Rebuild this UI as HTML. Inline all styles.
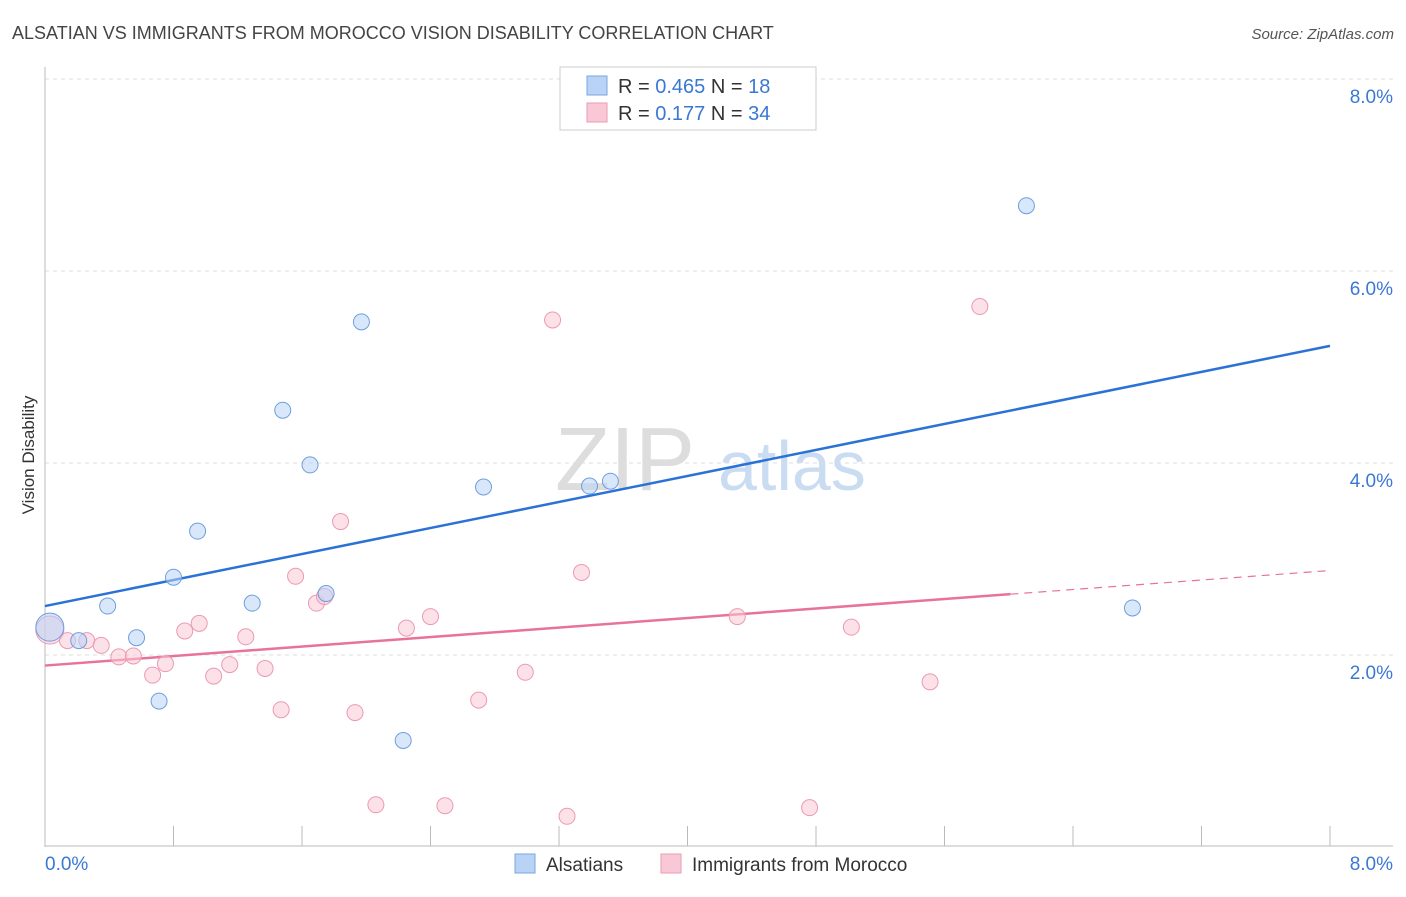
<!DOCTYPE html>
<html><head><meta charset="utf-8"><style>
body{margin:0;background:#fff;font-family:"Liberation Sans",sans-serif}
svg text{font-family:"Liberation Sans",sans-serif}
</style></head><body>
<svg id="chart" width="1406" height="892" viewBox="0 0 1406 892">
<text x="12" y="39" font-size="18" fill="#444">ALSATIAN VS IMMIGRANTS FROM MOROCCO VISION DISABILITY CORRELATION CHART</text>
<text x="1394" y="39" font-size="15" fill="#555" font-style="italic" text-anchor="end">Source: ZipAtlas.com</text>
<text x="0" y="0" transform="translate(34,455) rotate(-90)" font-size="17" fill="#333" text-anchor="middle">Vision Disability</text>
<g><text x="555" y="490" font-size="90" fill="#ddd" font-family="Liberation Serif">ZIP</text><text x="718" y="490" font-size="70" fill="#c9dcf2">atlas</text></g>
<g id="grid"></g><g id="axes"></g><g id="lines"></g><g id="pts"></g>
<g>
<rect x="560" y="67" width="256" height="63" fill="#fff" stroke="#ccc"/>
<rect x="587" y="76" width="20" height="19" fill="#b8d3f5" stroke="#7aa7e0"/>
<rect x="587" y="103" width="20" height="19" fill="#f9c8d7" stroke="#eb9ab3"/>
<text x="618" y="93" font-size="20" fill="#333">R = <tspan fill="#3a78d4">0.465</tspan>    N =  <tspan fill="#3a78d4">18</tspan></text>
<text x="618" y="120" font-size="20" fill="#333">R =  <tspan fill="#3a78d4">0.177</tspan>    N = <tspan fill="#3a78d4">34</tspan></text>
</g>
<g>
<rect x="515" y="854" width="20" height="19" fill="#b8d3f5" stroke="#7aa7e0"/>
<text x="546" y="871" font-size="19" fill="#333">Alsatians</text>
<rect x="661" y="854" width="20" height="19" fill="#f9c8d7" stroke="#eb9ab3"/>
<text x="692" y="871" font-size="19" fill="#333">Immigrants from Morocco</text>
</g>
</svg>
<script>
const yTicks=[2,4,6,8];
const yTickLabels=["2.0%","4.0%","6.0%","8.0%"];
const blueX=[0.03,0.39,0.21,0.57,0.71,0.80,0.95,1.29,1.48,1.65,1.75,1.97,2.23,2.73,3.39,3.52,6.11,6.77];
const blueY=[2.29,2.51,2.15,2.18,1.52,2.81,3.29,2.54,4.55,3.98,2.64,5.47,1.11,3.75,3.76,3.81,6.68,2.49];
const pinkX=[0.03,0.14,0.26,0.35,0.46,0.55,0.67,0.75,0.87,0.96,1.05,1.15,1.25,1.37,1.47,1.56,1.69,1.74,1.84,1.93,2.06,2.25,2.40,2.49,2.70,2.99,3.16,3.25,3.34,4.31,4.76,5.02,5.51,5.82];
const pinkY=[2.26,2.15,2.15,2.10,1.98,1.99,1.79,1.91,2.25,2.33,1.78,1.90,2.19,1.86,1.43,2.82,2.54,2.61,3.39,1.40,0.44,2.28,2.40,0.43,1.53,1.82,5.49,0.32,2.86,2.40,0.41,2.29,1.72,5.63];
const blueTrend=[2.51,5.22];
const pinkTrend=[1.89,2.88];
const pinkSolidEnd=6.01;
const X=v=>45+v/8*1285, Y=v=>847-v*96;
const NS="http://www.w3.org/2000/svg";
function mk(parent,tag,attrs){const e=document.createElementNS(NS,tag);for(const k in attrs)e.setAttribute(k,attrs[k]);document.getElementById(parent).appendChild(e);return e;}
yTicks.forEach((t,i)=>{
 const l=mk('grid','line',{x1:45,x2:1393,y1:Y(t),y2:Y(t),stroke:'#ddd','stroke-dasharray':'4,4'});
 
 
 const tx=mk('grid','text',{x:1393,y:Y(t)+24,'font-size':19,fill:'#3a78d4','text-anchor':'end'});
 tx.textContent=yTickLabels[i];
 
 
});
const ax=mk('axes','line',{x1:45,x2:45,y1:67,y2:847,stroke:'#bbb'});


const bx=mk('axes','line',{x1:45,x2:1393,y1:846,y2:846,stroke:'#bbb'});


for(let i=0;i<=10;i++){const t=mk('axes','line',{x1:X(i*0.8),x2:X(i*0.8),y1:826,y2:846,stroke:'#bbb'});
 
 }
const l0=mk('axes','text',{x:45,y:870,'font-size':19,fill:'#3a78d4'});l0.textContent='0.0%';


const l8=mk('axes','text',{x:1393,y:870,'font-size':19,fill:'#3a78d4','text-anchor':'end'});l8.textContent='8.0%';


function pts(xs,ys,fill,stroke,name){xs.forEach((x,i)=>{const c=mk('pts','circle',{cx:X(x),cy:Y(ys[i]),r:i==0?14:8,fill:fill,'fill-opacity':0.55,stroke:stroke,'stroke-width':1});
 
 });}
pts(pinkX,pinkY,'#f9c8d7','#eb9ab3','morocco-point');
pts(blueX,blueY,'#b8d3f5','#6f9fdc','alsatian-point');
const bl=mk('lines','line',{x1:X(0),y1:Y(blueTrend[0]),x2:X(8),y2:Y(blueTrend[1]),stroke:'#2a72d6','stroke-width':2.5});


const pm=pinkTrend[0]+(pinkTrend[1]-pinkTrend[0])*pinkSolidEnd/8;
const pl=mk('lines','line',{x1:X(0),y1:Y(pinkTrend[0]),x2:X(pinkSolidEnd),y2:Y(pm),stroke:'#e8739a','stroke-width':2.5});


const pd=mk('lines','line',{x1:X(pinkSolidEnd),y1:Y(pm),x2:X(8),y2:Y(pinkTrend[1]),stroke:'#e8739a','stroke-width':1.2,'stroke-dasharray':'8,6'});


</script>
</body></html>
